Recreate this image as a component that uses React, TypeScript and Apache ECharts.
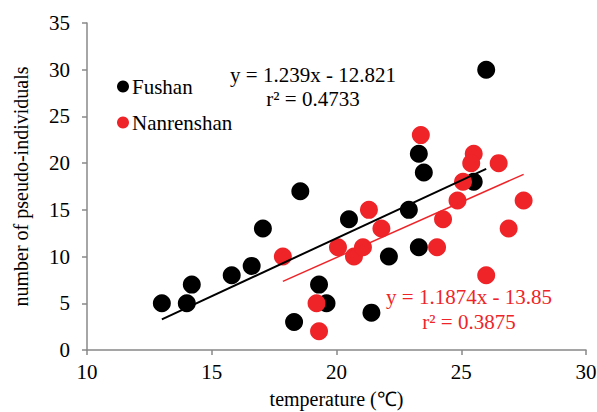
import React, { useEffect, useRef } from 'react';
import * as echarts from 'echarts';

// Fushan: temperature (°C) vs number of pseudo-individuals
const fushanTemp = [13, 14, 14.2, 15.8, 16.6, 17.05, 18.55, 18.3, 19.3, 19.6, 20.5, 22.1, 22.9, 23.3, 21.4, 25.5, 26, 23.3, 23.5];
const fushanCount = [5, 5, 7, 8, 9, 13, 17, 3, 7, 5, 14, 10, 15, 11, 4, 18, 30, 21, 19];

// Nanrenshan
const nanTemp = [17.85, 19.2, 19.3, 20.06, 20.7, 21.06, 21.3, 21.8, 24.03, 24.27, 24.85, 25.07, 26.9, 27.5, 26.0, 23.38, 25.5, 25.4, 26.5];
const nanCount = [10, 5, 2, 11, 10, 11, 15, 13, 11, 14, 16, 18, 13, 16, 8, 23, 21, 20, 20];

// linear fits: [slope, intercept]
const fushanFit = [1.239, -12.821];
const nanFit = [1.1874, -13.85];

const fushanEq = ['y = 1.239x - 12.821', 'r² = 0.4733'];
const nanEq = ['y = 1.1874x - 13.85', 'r² = 0.3875'];

const seriesNames = ['Fushan', 'Nanrenshan'];

const BLACK = '#000000';
const RED = '#EE2429';
const AXIS = '#888888';
const FONT = 'Liberation Serif';

function fitLine(xs: number[], fit: number[]) {
  const lo = Math.min(...xs);
  const hi = Math.max(...xs);
  return [
    [lo, fit[0] * lo + fit[1]],
    [hi, fit[0] * hi + fit[1]],
  ];
}

export default function App() {
  const ref = useRef<HTMLDivElement>(null);
  useEffect(() => {
    if (!ref.current) return;
    const chart = echarts.init(ref.current, null, { renderer: 'svg' });
    chart.setOption({
      animation: false,
      backgroundColor: '#ffffff',
      textStyle: { fontFamily: FONT },
      grid: { left: 87, right: 11, top: 23, bottom: 62, containLabel: false, outerBoundsMode: 'none' },
      legend: {
        data: seriesNames,
        orient: 'vertical',
        left: 112,
        top: 71,
        icon: 'circle',
        itemWidth: 12,
        itemHeight: 12,
        itemGap: 15,
        textStyle: { fontFamily: FONT, fontSize: 21, color: '#000', padding: [0, 0, 0, -2] },
      },
      xAxis: {
        type: 'value',
        min: 10,
        max: 30,
        interval: 5,
        name: 'temperature (℃)',
        nameLocation: 'middle',
        nameGap: 39,
        nameMoveOverlap: false,
        nameTextStyle: { fontFamily: FONT, fontSize: 20, color: '#000' },
        axisLine: { show: true, lineStyle: { color: AXIS, width: 1.5 } },
        axisTick: { show: true, inside: false, length: 5, lineStyle: { color: AXIS, width: 1.5 } },
        axisLabel: { fontFamily: FONT, fontSize: 21, color: '#000', margin: 11 },
        splitLine: { show: false },
      },
      yAxis: {
        type: 'value',
        min: 0,
        max: 35,
        interval: 5,
        name: 'number of pseudo-individuals',
        nameLocation: 'middle',
        nameRotate: 90,
        nameGap: 56,
        nameMoveOverlap: false,
        nameTextStyle: { fontFamily: FONT, fontSize: 20, color: '#000' },
        axisLine: { show: true, lineStyle: { color: AXIS, width: 1.5 } },
        axisTick: { show: true, inside: false, length: 5, lineStyle: { color: AXIS, width: 1.5 } },
        axisLabel: { fontFamily: FONT, fontSize: 21, color: '#000', margin: 17 },
        splitLine: { show: false },
      },
      series: [
        {
          name: seriesNames[0],
          type: 'scatter',
          symbol: 'circle',
          symbolSize: 18,
          itemStyle: { color: BLACK, opacity: 1 },
          data: fushanTemp.map((t, i) => [t, fushanCount[i]]),
          z: 2,
        },
        {
          name: seriesNames[1],
          type: 'scatter',
          symbol: 'circle',
          symbolSize: 18,
          itemStyle: { color: RED, opacity: 1 },
          data: nanTemp.map((t, i) => [t, nanCount[i]]),
          z: 3,
        },
        {
          name: 'Fushan fit',
          type: 'line',
          showSymbol: false,
          symbol: 'none',
          lineStyle: { color: BLACK, width: 2 },
          data: fitLine(fushanTemp, fushanFit),
          z: 4,
        },
        {
          name: 'Nanrenshan fit',
          type: 'line',
          showSymbol: false,
          symbol: 'none',
          lineStyle: { color: RED, width: 1.5 },
          data: fitLine(nanTemp, nanFit),
          z: 4,
        },
      ],
      graphic: [
        {
          type: 'text',
          x: 313,
          y: 75,
          style: { text: fushanEq[0], fill: BLACK, fontFamily: FONT, fontSize: 21, textAlign: 'center', textVerticalAlign: 'middle' },
        },
        {
          type: 'text',
          x: 313,
          y: 99,
          style: { text: fushanEq[1], fill: BLACK, fontFamily: FONT, fontSize: 21, textAlign: 'center', textVerticalAlign: 'middle' },
        },
        {
          type: 'text',
          x: 469,
          y: 297,
          style: { text: nanEq[0], fill: RED, fontFamily: FONT, fontSize: 21, textAlign: 'center', textVerticalAlign: 'middle' },
        },
        {
          type: 'text',
          x: 469,
          y: 322,
          style: { text: nanEq[1], fill: RED, fontFamily: FONT, fontSize: 21, textAlign: 'center', textVerticalAlign: 'middle' },
        },
      ],
    });
    return () => chart.dispose();
  }, []);
  return <div ref={ref} style={{ width: 597, height: 412, position: 'absolute', left: 0, top: 0 }} />;
}
